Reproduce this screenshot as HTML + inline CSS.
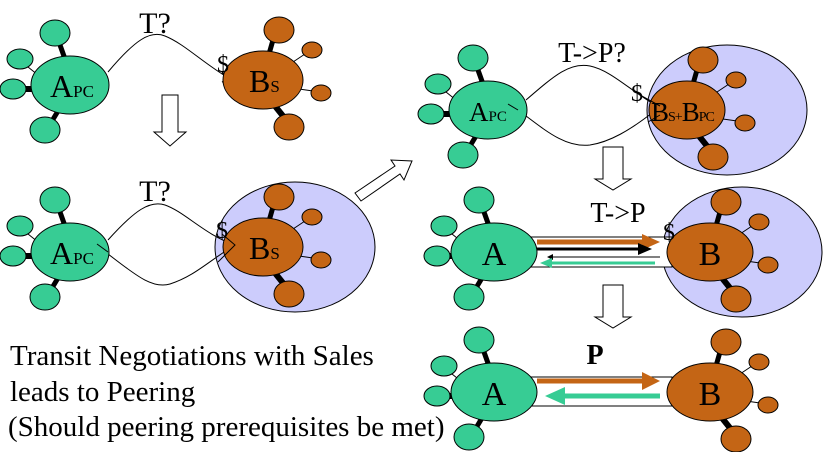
<!DOCTYPE html>
<html><head><meta charset="utf-8"><style>
html,body{margin:0;padding:0;background:#fff;}
body{position:relative;width:824px;height:452px;overflow:hidden;}
text{font-family:"Liberation Serif","DejaVu Serif",serif;}
.cap{position:absolute;left:10px;font-family:"Liberation Serif","DejaVu Serif",serif;font-size:29px;line-height:36px;white-space:nowrap;color:#000;}
svg{position:absolute;left:0;top:0;}
</style></head><body>
<svg width="824" height="452" viewBox="0 0 824 452" xmlns="http://www.w3.org/2000/svg">
<defs>
<g id="gc">
  <line x1="-10" y1="-40" x2="-5" y2="-26" stroke="#000" stroke-width="5"/>
  <line x1="-42" y1="-18" x2="-32" y2="-10" stroke="#000" stroke-width="1"/>
  <line x1="-46" y1="4" x2="-36" y2="4" stroke="#000" stroke-width="6"/>
  <line x1="-12" y1="26" x2="-18" y2="36" stroke="#000" stroke-width="5"/>
  <ellipse cx="-15" cy="-52" rx="15" ry="13" fill="#37cc94" stroke="#000"/>
  <ellipse cx="-50" cy="-26" rx="13" ry="10" fill="#37cc94" stroke="#000"/>
  <ellipse cx="-57" cy="4" rx="13" ry="10" fill="#37cc94" stroke="#000"/>
  <ellipse cx="-25" cy="45" rx="15" ry="13" fill="#37cc94" stroke="#000"/>
</g>
<g id="oc">
  <line x1="10" y1="-40" x2="6" y2="-26" stroke="#000" stroke-width="5"/>
  <line x1="30" y1="-18" x2="42" y2="-26" stroke="#000" stroke-width="1"/>
  <line x1="36" y1="9" x2="50" y2="11" stroke="#000" stroke-width="1"/>
  <line x1="12" y1="26" x2="20" y2="36" stroke="#000" stroke-width="6"/>
  <ellipse cx="16" cy="-50" rx="15" ry="13" fill="#c46515" stroke="#000"/>
  <ellipse cx="49" cy="-30" rx="10" ry="8" fill="#c46515" stroke="#000"/>
  <ellipse cx="58" cy="13" rx="10" ry="8" fill="#c46515" stroke="#000"/>
  <ellipse cx="26" cy="47" rx="15" ry="13" fill="#c46515" stroke="#000"/>
</g>
</defs>

<ellipse cx="295" cy="247" rx="80" ry="65" fill="#ccccfc" stroke="#000"/>
<ellipse cx="727" cy="110" rx="80" ry="65" fill="#ccccfc" stroke="#000"/>
<ellipse cx="742" cy="252" rx="80" ry="65" fill="#ccccfc" stroke="#000"/>

<polygon points="162,95 178,95 178,132 186,132 170,146 154,132 162,132" fill="#fff" stroke="#000"/>
<polygon points="603,147 623,147 623,179 631,179 613,190 595,179 603,179" fill="#fff" stroke="#000"/>
<polygon points="603,285 623,285 623,317 631,317 613,328 595,317 603,317" fill="#fff" stroke="#000"/>
<polygon points="355,193 395,166 391,160 412,161 404,180 400,174 361,201" fill="#fff" stroke="#000"/>

<path d="M108,72 C135,40 150,30 165,36 C185,44 205,65 232,80" fill="none" stroke="#000"/>
<polygon points="232,80 222,72 226,80 222,82" fill="#000" stroke="#000"/>
<path d="M108,240 C135,210 150,200 165,205 C185,212 205,235 235,245" fill="none" stroke="#000"/>
<path d="M100,248 C130,270 150,290 170,284 C195,276 210,260 235,245" fill="none" stroke="#000"/>
<path d="M526,100 C555,75 570,62 590,66 C610,70 630,90 652,103" fill="none" stroke="#000"/>
<path d="M518,110 C545,130 565,148 590,145 C610,142 630,130 652,113" fill="none" stroke="#000"/>

<rect x="530" y="237" width="142" height="30" fill="#fff" stroke="#000"/>
<rect x="530" y="377" width="142" height="29" fill="#fff" stroke="#000"/>
<line x1="537" y1="242" x2="645" y2="242" stroke="#c46515" stroke-width="5"/>
<polygon points="642,234 660,242 642,250" fill="#c46515"/>
<line x1="537" y1="249" x2="640" y2="249" stroke="#000" stroke-width="3"/>
<polygon points="638,243 652,249 638,255" fill="#000"/>
<line x1="548" y1="257" x2="660" y2="257" stroke="#000" stroke-width="1"/>
<polygon points="547,257 553,254 553,260" fill="#000"/>
<line x1="552" y1="263" x2="655" y2="263" stroke="#37cc94" stroke-width="3"/>
<polygon points="540,263 552,258 552,268" fill="#37cc94"/>
<line x1="537" y1="381" x2="645" y2="381" stroke="#c46515" stroke-width="5"/>
<polygon points="642,372 660,381 642,390" fill="#c46515"/>
<line x1="560" y1="396" x2="660" y2="396" stroke="#37cc94" stroke-width="5"/>
<polygon points="545,396 565,387 565,405" fill="#37cc94"/>

<use href="#gc" x="70" y="85"/><ellipse cx="70" cy="85" rx="39" ry="29" fill="#37cc94" stroke="#000"/>
<use href="#oc" x="263" y="80"/><ellipse cx="263" cy="80" rx="40" ry="29" fill="#c46515" stroke="#000"/>
<use href="#gc" x="70" y="252"/><ellipse cx="70" cy="252" rx="39" ry="29" fill="#37cc94" stroke="#000"/>
<use href="#oc" x="263" y="247"/><ellipse cx="263" cy="247" rx="40" ry="29" fill="#c46515" stroke="#000"/>
<use href="#gc" x="488" y="110"/><ellipse cx="488" cy="110" rx="39" ry="29" fill="#37cc94" stroke="#000"/>
<use href="#oc" x="687" y="110"/><ellipse cx="687" cy="110" rx="38" ry="29" fill="#c46515" stroke="#000"/>
<use href="#gc" x="494" y="252"/><ellipse cx="494" cy="252" rx="43" ry="29" fill="#37cc94" stroke="#000"/>
<use href="#oc" x="710" y="252"/><ellipse cx="710" cy="252" rx="43" ry="29" fill="#c46515" stroke="#000"/>
<use href="#gc" x="494" y="392"/><ellipse cx="494" cy="392" rx="43" ry="29" fill="#37cc94" stroke="#000"/>
<use href="#oc" x="710" y="392"/><ellipse cx="710" cy="392" rx="43" ry="29" fill="#c46515" stroke="#000"/>

<path d="M218,262 L235,245 L222,234" fill="none" stroke="#000"/>
<path d="M97,244 L108,252" fill="none" stroke="#000"/>
<path d="M518,110 L508,104" fill="none" stroke="#000"/>
<path d="M640,95 L660,106 M660,115 L648,122" fill="none" stroke="#000"/>

<g>
<text x="50" y="97" style="font-size:32px">A<tspan style="font-size:17px">PC</tspan></text>
<text x="249" y="92" style="font-size:32px">B<tspan style="font-size:17px">S</tspan></text>
<text x="50" y="264" style="font-size:32px">A<tspan style="font-size:17px">PC</tspan></text>
<text x="249" y="259" style="font-size:32px">B<tspan style="font-size:17px">S</tspan></text>
<text x="469" y="121" style="font-size:27px">A<tspan style="font-size:15px">PC</tspan></text>
<text x="651" y="121" style="font-size:27px;letter-spacing:-1px">B<tspan style="font-size:14px">S+</tspan>B<tspan style="font-size:14px">PC</tspan></text>
<text x="494" y="265" style="font-size:34px" text-anchor="middle">A</text>
<text x="710" y="265" style="font-size:34px" text-anchor="middle">B</text>
<text x="494" y="405" style="font-size:34px" text-anchor="middle">A</text>
<text x="710" y="405" style="font-size:34px" text-anchor="middle">B</text>

<text x="155" y="33" style="font-size:30px" text-anchor="middle">T?</text>
<text x="155" y="201" style="font-size:30px" text-anchor="middle">T?</text>
<text x="592" y="62" style="font-size:28px" text-anchor="middle">T-&gt;P?</text>
<text x="618" y="222" style="font-size:28px" text-anchor="middle">T-&gt;P</text>
<text x="595" y="364" style="font-size:28px;font-weight:bold" text-anchor="middle">P</text>
<text x="217" y="72" style="font-size:24px">$</text>
<text x="216" y="238" style="font-size:24px">$</text>
<text x="631" y="101" style="font-size:24px">$</text>
<text x="663" y="240" style="font-size:24px">$</text>
</g>
</svg>
<div class="cap" style="top:338px;">Transit Negotiations with Sales</div>
<div class="cap" style="top:374px;">leads to Peering</div>
<div class="cap" style="top:409px;left:8px;">(Should peering prerequisites be met)</div>
</body></html>
